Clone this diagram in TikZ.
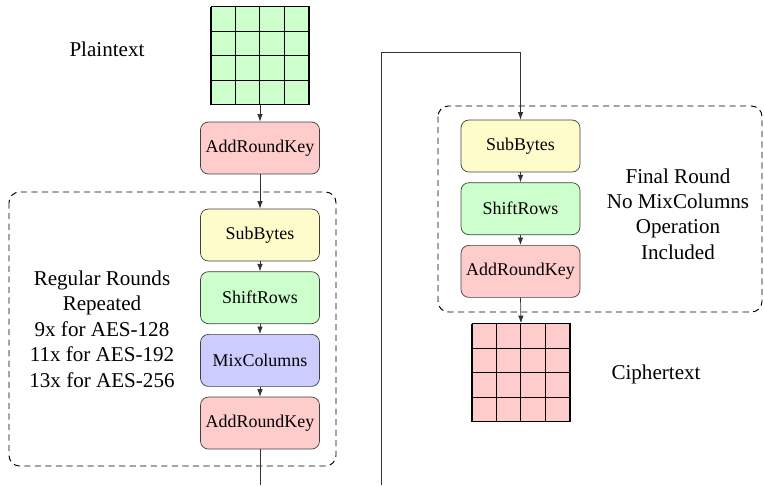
\documentclass[tikz,border=0pt]{standalone}
\usepackage{fontspec}
\setmainfont{Liberation Serif}
\usetikzlibrary{positioning, arrows.meta}

\begin{document}
\begin{tikzpicture}[x=0.02cm, y=0.02cm, font=\fontsize{12}{14.5}\selectfont,
    stage/.style={draw=black!75, rounded corners=4.5pt, minimum width=2.38cm, minimum height=1.04cm, inner sep=1pt, font=\fontsize{10.2}{12}\selectfont},
    cellgrid/.style={draw=black, minimum size=1.96cm, inner sep=0pt},
    roundbox/.style={draw=black, line width=0.55pt, dash pattern=on 3.5pt off 2.5pt, rounded corners=6pt},
    flow/.style={-{Latex[length=1.5mm, width=1.1mm]}, black!80},
    node distance=0.2cm]
    \useasboundingbox (0,0) rectangle (764,485);

    % Plaintext state
    \node[cellgrid, fill=green!20] (plain) at (260,429.5) {};
    \draw[shift={(plain.south west)}, line width=0.7pt] (0,0) grid[step=0.49cm] (1.96cm,1.96cm);
    \node (plainlabel) at (107,436) {Plaintext};

    % Initial key addition
    \node[stage, fill=red!20] (ark0) at (260,337) {AddRoundKey};
    \draw[flow] (plain.south) -- (ark0.north);

    % Regular rounds
    \draw[roundbox] (9,293) rectangle (336,19);
    \node[stage, fill=yellow!20] (sb1) at (260,250) {SubBytes};
    \node[stage, fill=green!20, below=of sb1] (sr1) {ShiftRows};
    \node[stage, fill=blue!20, below=of sr1] (mc1) {MixColumns};
    \node[stage, fill=red!20, below=of mc1] (ark1) {AddRoundKey};
    \node[align=center] (regular) at (102,156) {Regular Rounds\\Repeated\\9x for AES-128\\11x for AES-192\\13x for AES-256};
    \draw[flow] (ark0.south) -- (sb1.north);
    \draw[flow] (sb1.south) -- (sr1.north);
    \draw[flow] (sr1.south) -- (mc1.north);
    \draw[flow] (mc1.south) -- (ark1.north);
    \coordinate (exit) at (260,0);
    \draw[black!80] (ark1.south) -- (exit);

    % Final round
    \draw[roundbox] (438,379) rectangle (762,173);
    \node[stage, fill=yellow!20] (sb2) at (520.5,339) {SubBytes};
    \node[stage, fill=green!20, below=of sb2] (sr2) {ShiftRows};
    \node[stage, fill=red!20, below=of sr2] (ark2) {AddRoundKey};
    \node[align=center] (final) at (678,271) {Final Round\\No MixColumns\\Operation\\Included};
    \coordinate (entry) at (381,0);
    \coordinate (turn) at (381,433);
    \draw[flow] (entry) -- (turn) -| (sb2.north);
    \draw[flow] (sb2.south) -- (sr2.north);
    \draw[flow] (sr2.south) -- (ark2.north);

    % Ciphertext state
    \node[cellgrid, fill=red!20] (cipher) at (521,112.5) {};
    \draw[shift={(cipher.south west)}, line width=0.7pt] (0,0) grid[step=0.49cm] (1.96cm,1.96cm);
    \node (cipherlabel) at (656,111) {Ciphertext};
    \draw[flow] (ark2.south) -- (cipher.north);
\end{tikzpicture}
\end{document}
